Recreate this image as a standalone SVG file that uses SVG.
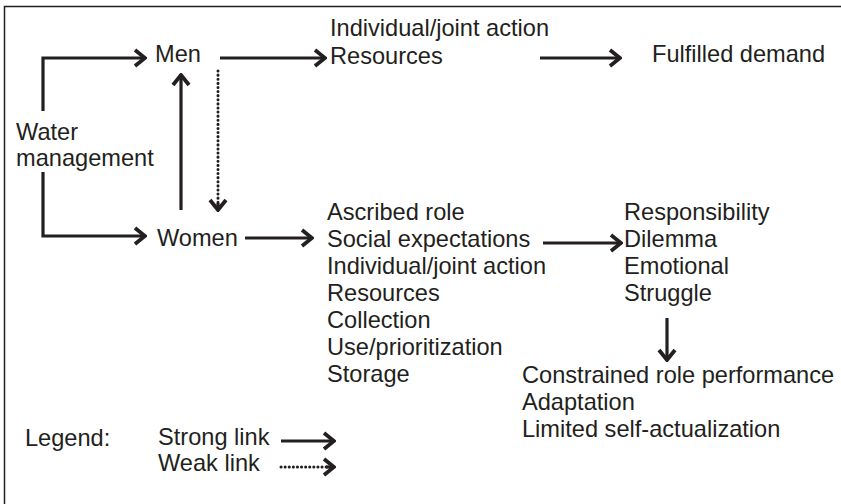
<svg xmlns="http://www.w3.org/2000/svg" width="841" height="504" viewBox="0 0 841 504">
<defs>
<style>
text{font-family:'Liberation Sans',Arimo,Arial,Helvetica,sans-serif;font-size:23.6px;fill:#231f20}
.ln{stroke:#231f20;stroke-width:3.2;fill:none}
.dot{stroke:#231f20;stroke-width:3;fill:none;stroke-dasharray:0.1 4;stroke-linecap:round}
</style>
<marker id="ah" viewBox="-13 -10 15 20" refX="0" refY="0" markerWidth="15" markerHeight="20" markerUnits="userSpaceOnUse" orient="auto">
<path d="M-10,-8 L0,0 L-10,8" fill="none" stroke="#231f20" stroke-width="3.8"/>
</marker>
</defs>
<rect width="841" height="504" fill="#fff"/>
<path d="M4.5,504 V6.5 H841" fill="none" stroke="#231f20" stroke-width="1.5"/>
<g font-family="Liberation Sans, Arial, sans-serif">
<g id="water"><text x="16" y="140">Water</text><text x="16" y="166">management</text></g>
<g id="men"><text x="155" y="62">Men</text></g>
<g id="women"><text x="157" y="246">Women</text></g>
<g id="men-outcomes"><text x="330" y="36">Individual/joint action</text><text x="330" y="64">Resources</text></g>
<g id="fulfilled"><text x="652" y="62">Fulfilled demand</text></g>
<g id="women-outcomes">
<text x="327" y="220">Ascribed role</text>
<text x="327" y="247">Social expectations</text>
<text x="327" y="274">Individual/joint action</text>
<text x="327" y="301">Resources</text>
<text x="327" y="328">Collection</text>
<text x="327" y="355">Use/prioritization</text>
<text x="327" y="382">Storage</text>
</g>
<g id="struggle">
<text x="624" y="220">Responsibility</text>
<text x="624" y="247">Dilemma</text>
<text x="624" y="274">Emotional</text>
<text x="624" y="301">Struggle</text>
</g>
<g id="constrained">
<text x="522" y="383">Constrained role performance</text>
<text x="522" y="410">Adaptation</text>
<text x="522" y="437">Limited self-actualization</text>
</g>
<g id="legend">
<text x="25" y="446">Legend:</text>
<text x="158" y="445">Strong link</text>
<text x="158" y="471">Weak link</text>
<path class="ln" d="M281,441 H334" marker-end="url(#ah)"/>
<path class="dot" d="M281,467 H332"/>
<path class="ln" d="M326,467 H334" marker-end="url(#ah)" stroke-width="0"/>
</g>
</g>
<g id="connectors">
<path class="ln" d="M43,111 V58 H145" marker-end="url(#ah)"/>
<path class="ln" d="M43,172 V236 H145" marker-end="url(#ah)"/>
<path class="ln" d="M181,210 V75" marker-end="url(#ah)"/>
<path class="dot" d="M218,71 V208"/>
<path class="ln" d="M218,203 V210" marker-end="url(#ah)" stroke-width="0"/>
<path class="ln" d="M220,58 H325" marker-end="url(#ah)"/>
<path class="ln" d="M540,58 H620" marker-end="url(#ah)"/>
<path class="ln" d="M245,238 H312" marker-end="url(#ah)"/>
<path class="ln" d="M543,243 H621" marker-end="url(#ah)"/>
<path class="ln" d="M667,318 V360" marker-end="url(#ah)"/>
</g>
</svg>
